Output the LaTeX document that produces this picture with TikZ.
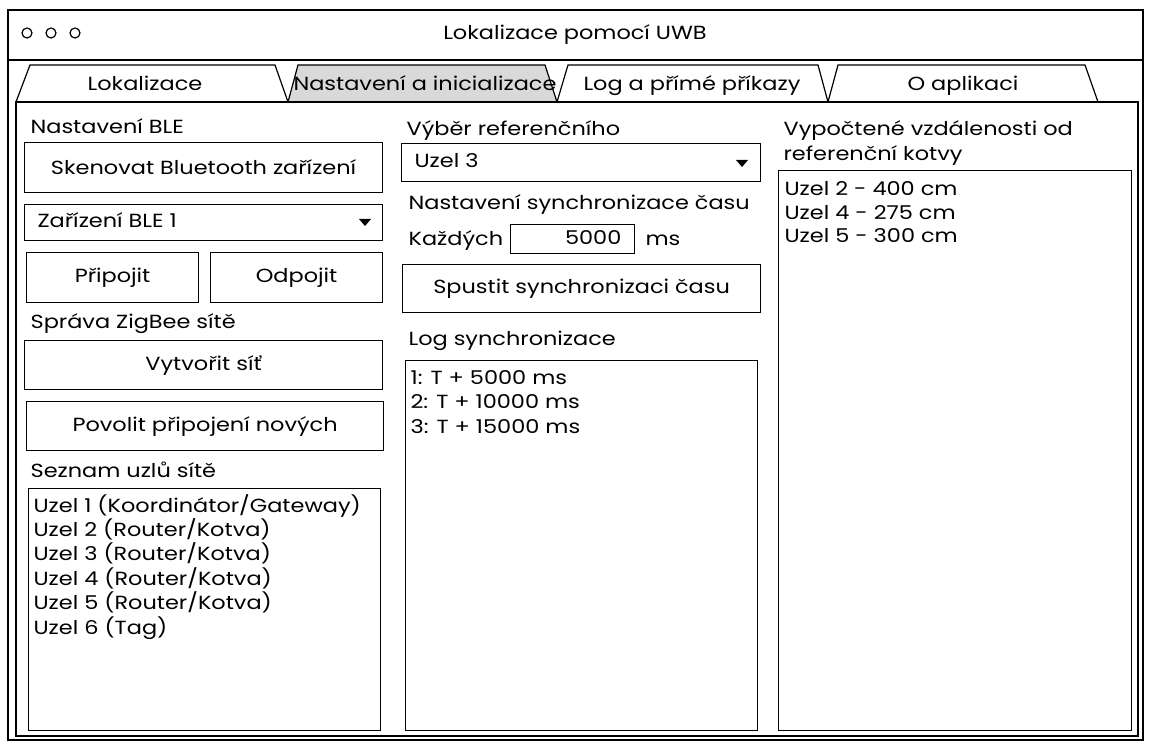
\documentclass[tikz,border=0pt]{standalone}
\usepackage{fontspec}
\setmainfont[FakeStretch=1.18]{Poppins}
\usetikzlibrary{positioning}

\definecolor{tabgray}{RGB}{217,217,217}

\tikzset{
	box/.style={draw, line width=1.2pt, inner sep=0pt, anchor=north west},
	btnbox/.style={box, align=center},
	caption/.style={anchor=mid west, inner sep=0pt, yshift=-3pt},
	listitem/.style={anchor=mid west, inner sep=0pt, yshift=-3pt},
	tabtext/.style={anchor=mid, inner sep=0pt, yshift=-3pt}
}

\begin{document}
\begin{tikzpicture}[x=1pt,y=-1pt,line width=1.2pt,font=\fontsize{19}{22}\selectfont]
		\useasboundingbox (0,0) rectangle (1149,743);
		
		% Window
		\draw (8,10) rectangle (1143,740);
		\draw (8,60) -- (1143,60);
		\foreach \cx in {27,51,75} \draw (\cx,33) circle (5pt);
		\node[tabtext] (title) at (575,34) {Lokalizace pomocí UWB};
		
		% Tabs
		\draw (16,102) -- (30,65) -- (275,65) -- (288,102);
		\filldraw[fill=tabgray] (288,102) -- (298,65) -- (545,65) -- (557,102);
		\draw (557,102) -- (568,65) -- (818,65) -- (828,102);
		\draw (828,102) -- (838,65) -- (1085,65) -- (1098,102);
		\node[tabtext] (tabLoc) at (145,85) {Lokalizace};
		\node[tabtext] (tabSet) at (425,85) {Nastavení a inicializace};
		\node[tabtext] (tabLog) at (692,85) {Log a přímé příkazy};
		\node[tabtext] (tabAbout) at (963,85) {O aplikaci};
		
		% Panel
		\draw (16,102) rectangle (1138,736);
		
		% Left column
		\node[caption] (bleLbl) at (30,128) {Nastavení BLE};
		\node[btnbox, minimum width=358pt, minimum height=50pt] (scanBtn) at (24,142) {Skenovat Bluetooth zařízení};
		\node[box, minimum width=358pt, minimum height=36pt] (bleDrop) at (24,204) {};
		\node[caption] (bleSel) at (37,222) {Zařízení BLE 1};
		\fill (359,219) -- (371,219) -- (365,226) -- cycle;
		\node[btnbox, minimum width=172pt, minimum height=50pt] (connBtn) at (26,252) {Připojit};
		\node[btnbox, minimum width=172pt, minimum height=50pt] (discBtn) at (210,252) {Odpojit};
		\node[caption] (zbLbl) at (30,323) {Správa ZigBee sítě};
		\node[btnbox, minimum width=358pt, minimum height=49pt] (netBtn) at (24,340) {Vytvořit síť};
		\node[btnbox, minimum width=357pt, minimum height=49pt] (joinBtn) at (26,401) {Povolit připojení nových};
		\node[caption] (nodesLbl) at (30,472) {Seznam uzlů sítě};
		\node[box, minimum width=352pt, minimum height=242pt] (nodesList) at (28,488) {};
		\foreach \txt [count=\i] in {Uzel 1 (Koordinátor/Gateway),Uzel 2 (Router/Kotva),Uzel 3 (Router/Kotva),Uzel 4 (Router/Kotva),Uzel 5 (Router/Kotva),Uzel 6 (Tag)}
			\node[listitem] (nodeItem\i) at (33,482+24.4*\i) {\txt};
		
		% Middle column
		\node[caption] (refLbl) at (406,130) {Výběr referenčního};
		\node[box, minimum width=359pt, minimum height=38pt] (refDrop) at (401,143) {};
		\node[caption] (refSel) at (414,162) {Uzel 3};
		\fill (736,160) -- (748,160) -- (742,167) -- cycle;
		\node[caption] (syncLbl) at (408,204) {Nastavení synchronizace času};
		\node[caption] (everyLbl) at (408,240) {Každých};
		\node[box, minimum width=124pt, minimum height=29pt] (periodBox) at (510,224) {};
		\node[anchor=mid east, inner sep=0pt, yshift=-3pt] (periodVal) at (622,239) {5000};
		\node[caption] (msLbl) at (645,240) {ms};
		\node[btnbox, minimum width=358pt, minimum height=48pt] (syncBtn) at (402,264) {Spustit synchronizaci času};
		\node[caption] (logLbl) at (408,340) {Log synchronizace};
		\node[box, minimum width=352pt, minimum height=370pt] (logList) at (405,360) {};
		\foreach \txt [count=\i] in {1: T + 5000 ms,2: T + 10000 ms,3: T + 15000 ms}
			\node[listitem] (logItem\i) at (410,354+24.5*\i) {\txt};
		
		% Right column
		\node[caption] (distLbl) at (783,130) {Vypočtené vzdálenosti od};
		\node[caption] (distLblB) at (783,155) {referenční kotvy};
		\node[box, minimum width=353pt, minimum height=560pt] (distList) at (778,170) {};
		\foreach \txt [count=\i] in {Uzel 2 - 400 cm,Uzel 4 - 275 cm,Uzel 5 - 300 cm}
			\node[listitem] (distItem\i) at (784,166+23.7*\i) {\txt};
		
		\end{tikzpicture}
\end{document}
